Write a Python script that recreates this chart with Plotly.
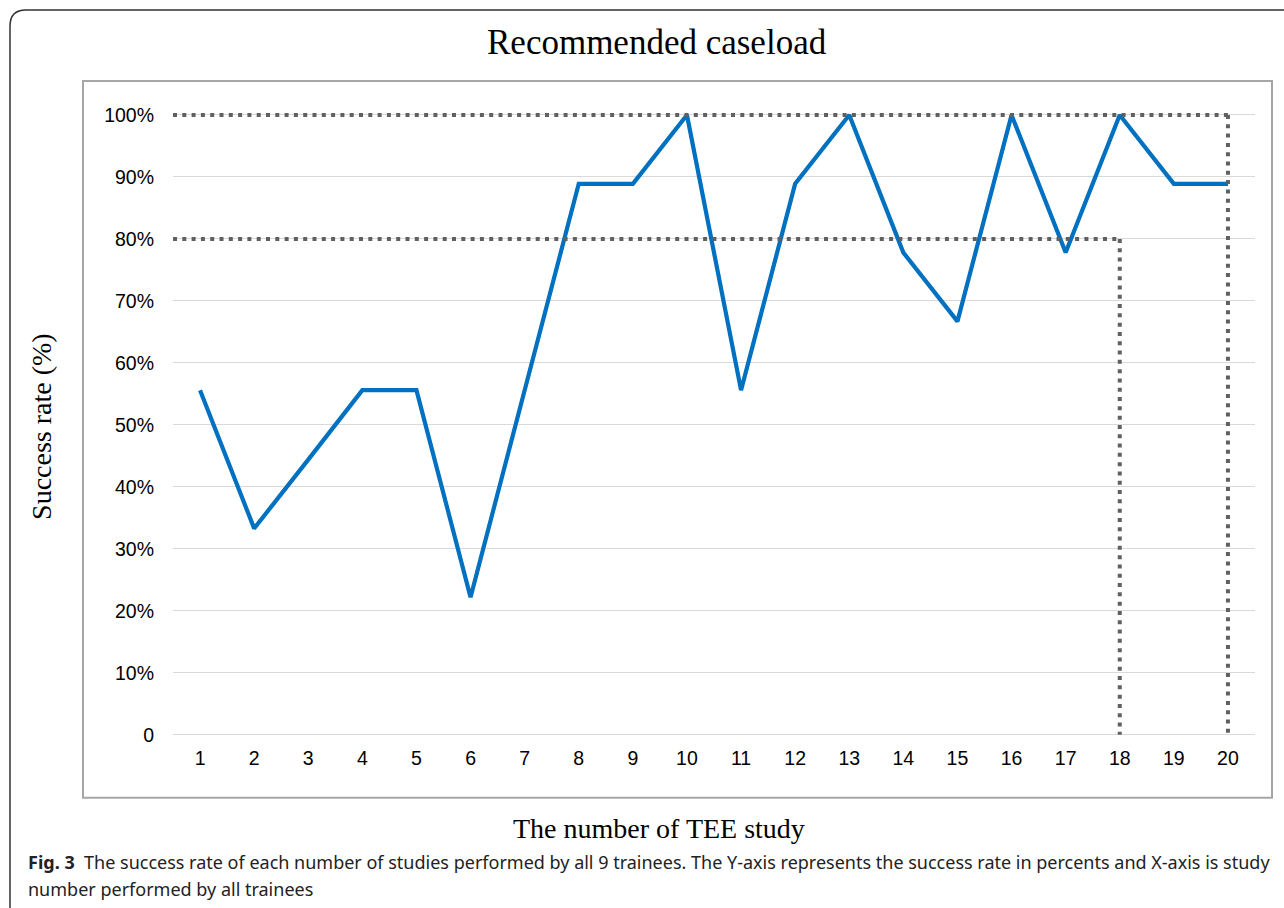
import plotly.graph_objects as go

# ---- data ----
studies = list(range(1, 21))
success_rate = [55.6, 33.3, 44.4, 55.6, 55.6, 22.2, 55.6, 88.9, 88.9, 100.0,
                55.6, 88.9, 100.0, 77.8, 66.7, 100.0, 77.8, 100.0, 88.9, 88.9]
y_ticks = [0, 10, 20, 30, 40, 50, 60, 70, 80, 90, 100]
y_tick_labels = ["0", "10%", "20%", "30%", "40%", "50%", "60%", "70%", "80%", "90%", "100%"]
ref_rates = [100, 80]       # dotted reference levels
ref_studies = [20, 18]      # study number where each level is reached

W, H = 1284, 908
Y_MIN, Y_MAX = -1.0, 105.0
L, R = 173, 1255
T, B = 84.0, 741.2          # plot area in pixels


def px(x):
    return (x - L) / (R - L)


def py(y):
    return (B - y) / (B - T)


fig = go.Figure()
fig.add_trace(go.Scatter(
    x=studies, y=success_rate, mode="lines",
    line=dict(color="#0070C0", width=4.2), showlegend=False, hoverinfo="x+y"))

shapes = []
dot = dict(color="#606060", width=4, dash="4px,5.3px")
for rate, st in zip(ref_rates, ref_studies):
    shapes.append(dict(type="line", xref="x", yref="y", x0=0.5, x1=st, y0=rate, y1=rate, line=dot, layer="above"))
    shapes.append(dict(type="line", xref="x", yref="y", x0=st, x1=st, y0=rate, y1=0, line=dot, layer="above"))

# inner chart box
shapes.append(dict(type="rect", xref="paper", yref="paper",
                   x0=px(83), x1=px(1272), y0=py(798), y1=py(81),
                   line=dict(color="#a6a6a6", width=2), layer="below"))
# outer rounded frame
path = (f"M {px(10)},{py(930)} L {px(10)},{py(26)} "
        f"Q {px(10)},{py(10)} {px(26)},{py(10)} L {px(1300)},{py(10)}")
shapes.append(dict(type="path", xref="paper", yref="paper", path=path,
                   line=dict(color="#333333", width=1.5), layer="below"))

annotations = [
    dict(text="Recommended caseload", x=px(657), y=py(42), xref="paper", yref="paper",
         showarrow=False, xanchor="center", yanchor="middle",
         font=dict(family="Liberation Serif", size=35, color="#000")),
    dict(text="The number of TEE study", x=px(659), y=py(829), xref="paper", yref="paper",
         showarrow=False, xanchor="center", yanchor="middle",
         font=dict(family="Liberation Serif", size=28, color="#000")),
    dict(text="Success rate (%)", x=px(42), y=py(427), xref="paper", yref="paper",
         showarrow=False, xanchor="center", yanchor="middle", textangle=-90,
         font=dict(family="Liberation Serif", size=28, color="#000")),
    dict(text="<b>Fig. 3</b>  The success rate of each number of studies performed by all 9 trainees. "
              "The Y-axis represents the success rate in percents and X-axis is study",
         x=px(26), y=py(862), xref="paper", yref="paper", showarrow=False,
         xanchor="left", yanchor="middle",
         font=dict(family="Noto Sans", size=18, color="#222")),
    dict(text="number performed by all trainees",
         x=px(26), y=py(889), xref="paper", yref="paper", showarrow=False,
         xanchor="left", yanchor="middle",
         font=dict(family="Noto Sans", size=18, color="#222")),
]

fig.update_layout(
    width=W, height=H,
    margin=dict(l=L, r=W - R, t=T, b=H - B, pad=0),
    paper_bgcolor="white", plot_bgcolor="white",
    shapes=shapes, annotations=annotations,
    font=dict(family="Liberation Sans", size=19, color="#000"),
)
fig.update_xaxes(range=[0.5, 20.5], tickvals=studies, ticktext=[str(s) for s in studies],
                 showgrid=False, zeroline=False, showline=False, ticks="",
                 ticklabelstandoff=3, tickfont=dict(family="Liberation Sans", size=19.5))
fig.update_yaxes(range=[Y_MIN, Y_MAX], tickvals=y_ticks, ticktext=y_tick_labels,
                 showgrid=True, gridcolor="#d9d9d9", gridwidth=1,
                 zeroline=False, showline=False, ticks="",
                 ticklabelstandoff=18, tickfont=dict(family="Liberation Sans", size=19.5))

fig.write_html("out.html", config={"displayModeBar": False},
               post_script="document.body.style.margin='0px';")
